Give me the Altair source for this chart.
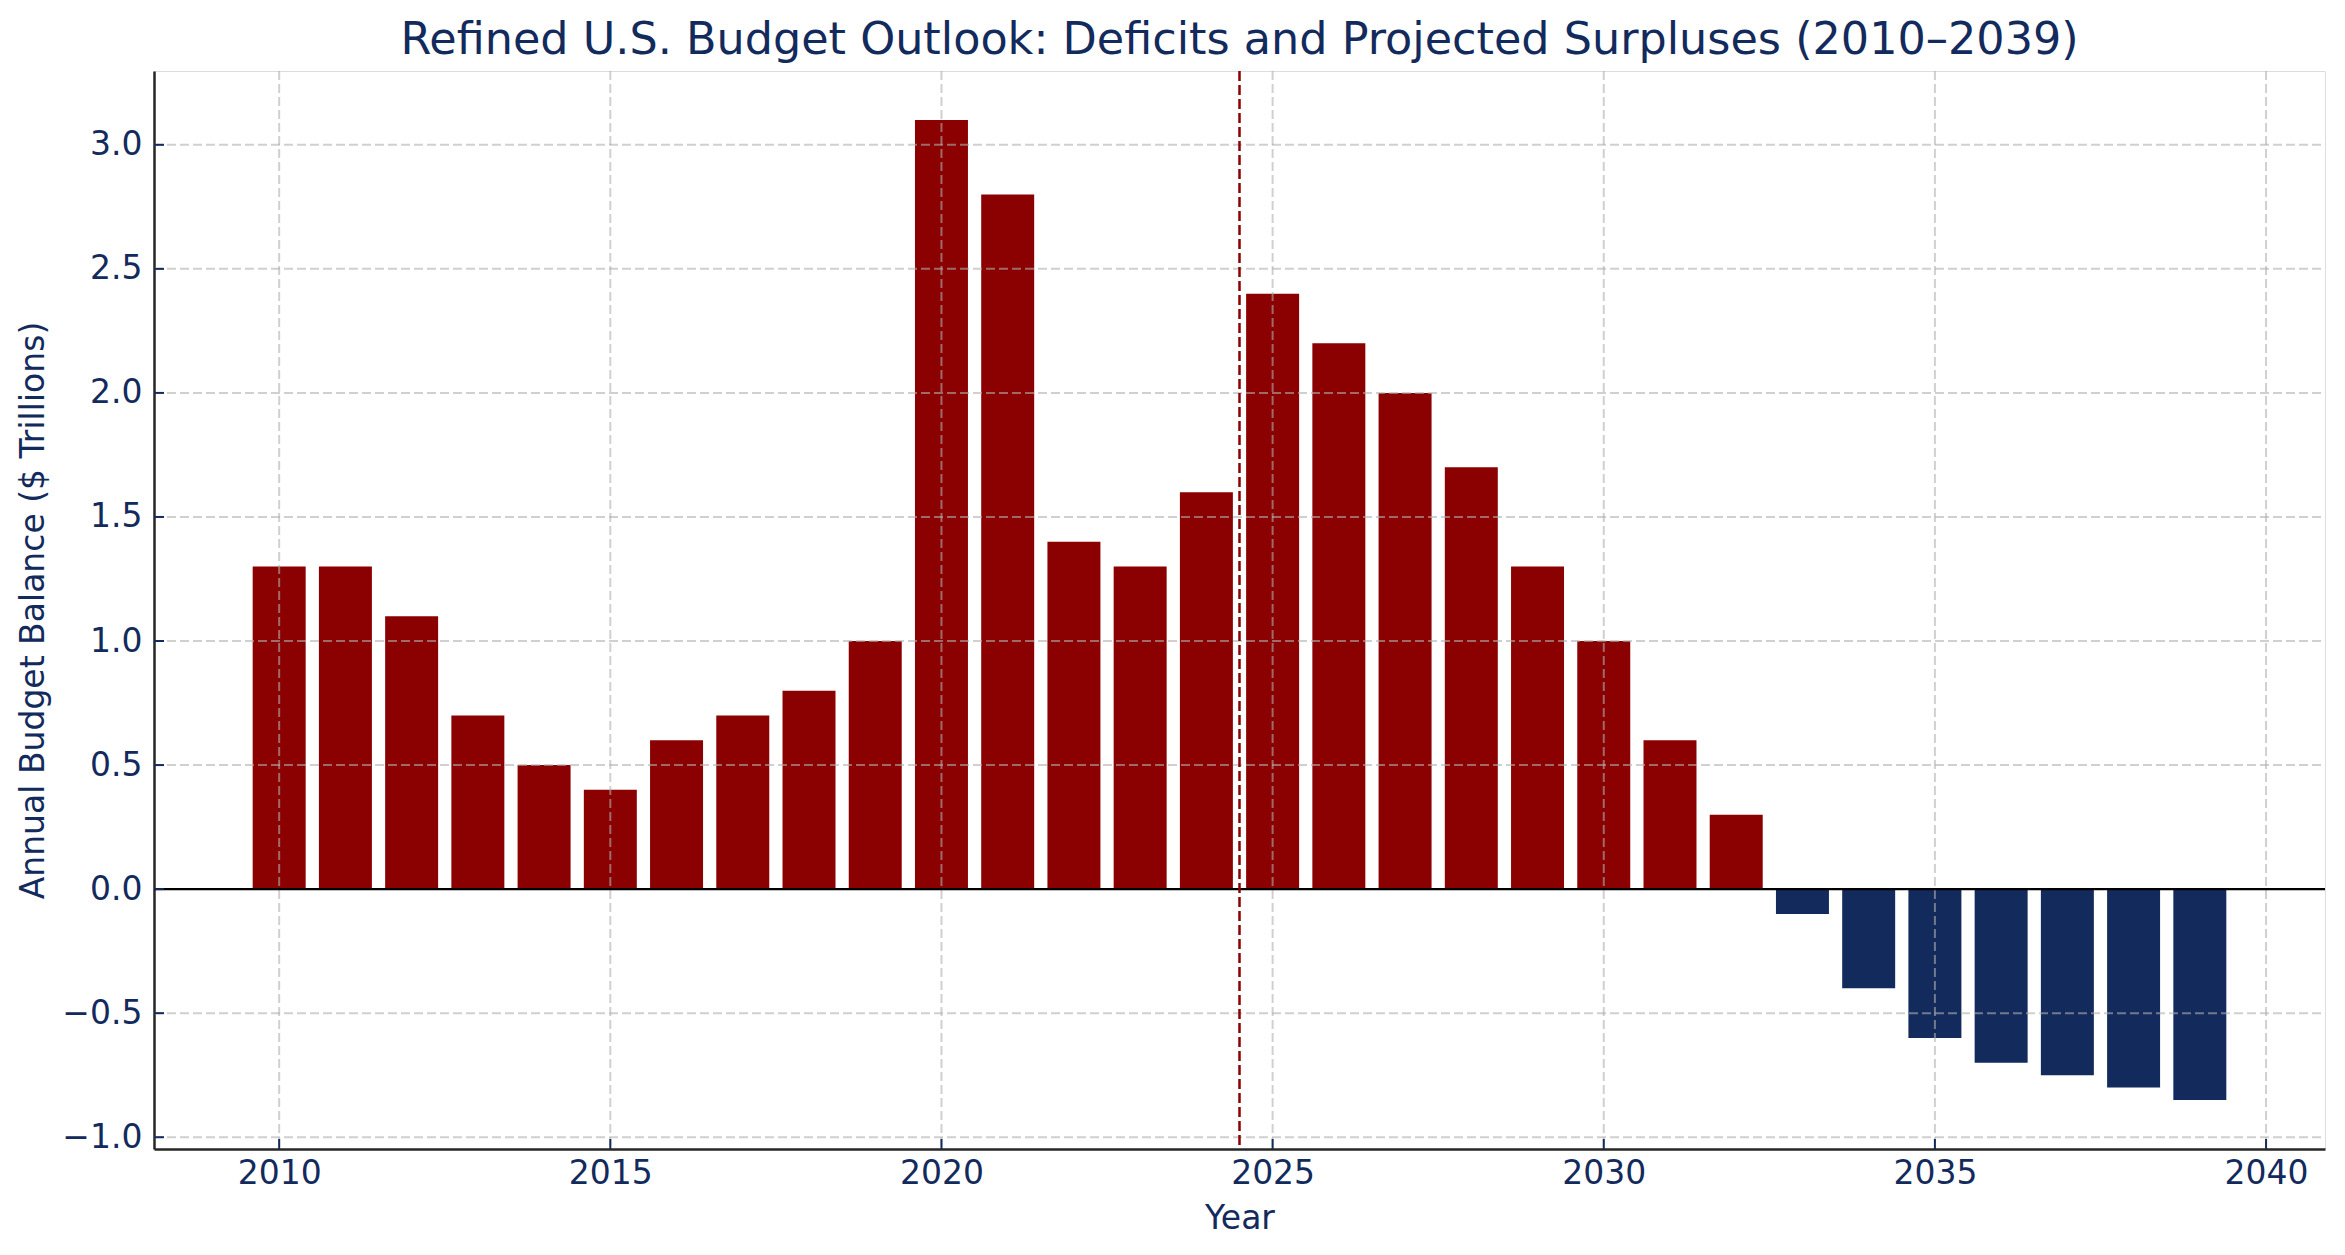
import altair as alt
import pandas as pd

years = list(range(2010, 2040))
balance = [1.3, 1.3, 1.1, 0.7, 0.5, 0.4, 0.6, 0.7, 0.8, 1.0,
           3.1, 2.8, 1.4, 1.3, 1.6, 2.4, 2.2, 2.0, 1.7, 1.3,
           1.0, 0.6, 0.3, -0.1, -0.4, -0.6, -0.7, -0.75, -0.8, -0.85]
x_ticks = [2010, 2015, 2020, 2025, 2030, 2035, 2040]
y_ticks = [-1.0, -0.5, 0.0, 0.5, 1.0, 1.5, 2.0, 2.5, 3.0]
divider_year = [2024.5]

NAVY = "#132a5c"
RED = "#8b0000"
FONT = "DejaVu Sans"
W, H = 2171, 1078
X_DOM = [2008.11, 2040.89]
Y_DOM = [-1.0475, 3.2975]

bars_df = pd.DataFrame({"year": years, "balance": balance})
bars_df["kind"] = ["Deficit" if v >= 0 else "Surplus" for v in balance]
xt_df = pd.DataFrame({"t": x_ticks})
yt_df = pd.DataFrame({"t": y_ticks})
vl_df = pd.DataFrame({"x": divider_year})
zero_df = pd.DataFrame({"y": [0.0]})

xs = alt.Scale(domain=X_DOM, nice=False, zero=False)
ys = alt.Scale(domain=Y_DOM, nice=False, zero=False)

x_axis = alt.Axis(values=x_ticks, format="d", grid=False, ticks=False,
                  labelFont=FONT, labelFontSize=33, labelColor=NAVY, labelPadding=8,
                  domainColor="#262626", domainWidth=2.5,
                  title="Year", titleFont=FONT, titleFontSize=33, titleColor=NAVY,
                  titleFontWeight="normal", titlePadding=12)
y_axis = alt.Axis(values=y_ticks, format=".1f", grid=False, ticks=False,
                  labelFont=FONT, labelFontSize=33, labelColor=NAVY, labelPadding=12,
                  domainColor="#262626", domainWidth=2.5,
                  title="Annual Budget Balance ($ Trillions)", titleFont=FONT,
                  titleFontSize=33, titleColor=NAVY, titleFontWeight="normal",
                  titlePadding=11)

bars = alt.Chart(bars_df).transform_calculate(
    x0="datum.year - 0.4", x1="datum.year + 0.4"
).mark_bar(stroke=None).encode(
    x=alt.X("x0:Q", scale=xs, axis=x_axis),
    x2="x1:Q",
    y=alt.Y("balance:Q", scale=ys, axis=y_axis),
    y2=alt.datum(0),
    color=alt.Color("kind:N", scale=alt.Scale(domain=["Deficit", "Surplus"], range=[RED, NAVY]), legend=None),
)

grid_style = dict(color="#b0b0b0", opacity=0.6, strokeWidth=2, strokeDash=[9, 4])
xgrid = alt.Chart(xt_df).mark_rule(**grid_style).encode(
    x=alt.X("t:Q", scale=xs), y=alt.value(0), y2=alt.value(H))
ygrid = alt.Chart(yt_df).mark_rule(**grid_style).encode(
    y=alt.Y("t:Q", scale=ys), x=alt.value(0), x2=alt.value(W))

zero = alt.Chart(zero_df).mark_rule(color="black", strokeWidth=2.2).encode(
    y=alt.Y("y:Q", scale=ys), x=alt.value(0), x2=alt.value(W))
vline = alt.Chart(vl_df).mark_rule(color=RED, strokeWidth=2.5, strokeDash=[10, 4]).encode(
    x=alt.X("x:Q", scale=xs), y=alt.value(0), y2=alt.value(H))

xtick = alt.Chart(xt_df).mark_rule(color=NAVY, strokeWidth=2).encode(
    x=alt.X("t:Q", scale=xs), y=alt.value(H), y2=alt.value(H - 10))
ytick = alt.Chart(yt_df).mark_rule(color=NAVY, strokeWidth=2).encode(
    y=alt.Y("t:Q", scale=ys), x=alt.value(0), x2=alt.value(10))

chart = alt.layer(bars, xgrid, ygrid, zero, vline, xtick, ytick).properties(
    width=W, height=H,
    title=alt.TitleParams(
        "Refined U.S. Budget Outlook: Deficits and Projected Surpluses (2010–2039)",
        font=FONT, fontSize=44.5, fontWeight="normal", color=NAVY,
        anchor="middle", baseline="alphabetic", offset=17, dy=46),
    padding={"left": 154, "top": 71, "right": 20, "bottom": 106},
    autosize=alt.AutoSizeParams(type="none"),
).configure_view(stroke=None).configure(background="white")

chart.save("out.html", embed_options={"renderer": "svg", "actions": False})
